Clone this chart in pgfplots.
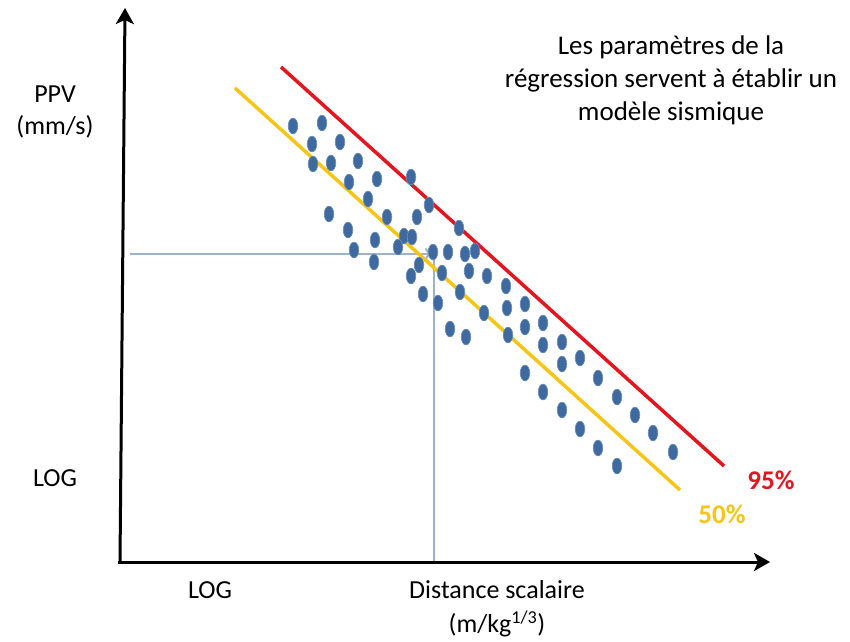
\documentclass[border=0pt]{standalone}
\usepackage{fontspec}
\setmainfont{Carlito}
\usepackage{pgfplots}
\pgfplotsset{compat=1.18}
\usetikzlibrary{arrows.meta}
\definecolor{dotblue}{HTML}{3E6AA0}
\definecolor{lred}{HTML}{E3161F}
\definecolor{lyellow}{HTML}{F5C518}
\definecolor{guide}{HTML}{9DB3CB}
\begin{document}
\begin{tikzpicture}
\begin{axis}[
  width=850pt, height=641pt, scale only axis,
  xmin=0, xmax=850, ymin=0, ymax=641, y dir=reverse,
  hide axis, clip=false,
]
\addplot[draw=none, forget plot] coordinates {(0,0) (850,641)};
% guide lines
\addplot[guide, line width=2pt, -{To[length=7pt,width=12pt]}] coordinates {(130,254) (432,254)};
\addplot[guide, line width=2pt] coordinates {(434,258) (434,562)};
% axes
\addplot[black, line width=3pt, -{Stealth[length=16pt,width=18pt,inset=4pt]}] coordinates {(120,562) (125,8)};
\addplot[black, line width=3pt, -{Stealth[length=16pt,width=18pt,inset=4pt]}] coordinates {(118,562) (770,562)};
% regression lines
\addplot[lred, line width=3.5pt] coordinates {(281,67) (724,466)};
\addplot[lyellow, line width=3.5pt] coordinates {(235,88) (680,490)};
% data points
\addplot[only marks, mark=*, mark size=4.8pt, mark options={yscale=1.65, fill=dotblue, draw=dotblue!75!white, line width=0.6pt}] coordinates {
(293,126) (322,123) (312,144) (340,142) (313,164) (331,163) (358,161) (349,182)
(377,179) (411,177) (368,199) (429,205) (329,214) (387,217) (417,217) (459,228)
(348,230) (375,240) (404,236) (412,237) (398,247) (354,250) (475,251) (433,252)
(448,252) (465,254) (374,262) (419,265) (469,271) (487,276) (442,273) (411,276)
(423,294) (460,292) (506,286) (438,303) (484,313) (507,308) (525,304) (450,329)
(466,337) (508,335) (525,327) (543,323) (543,345) (562,342) (562,364) (580,358)
(525,373) (598,378) (543,392) (617,397) (562,410) (635,415) (580,429) (653,433)
(598,448) (673,452) (617,466)
};
% texts
\node[font=\fontsize{26}{30}\selectfont] at (axis cs:55,94) {PPV};
\node[font=\fontsize{26}{30}\selectfont] at (axis cs:55,127) {(mm/s)};
\node[font=\fontsize{26}{30}\selectfont] at (axis cs:55,478) {LOG};
\node[font=\fontsize{26}{30}\selectfont] at (axis cs:210,590) {LOG};
\node[font=\fontsize{26}{30}\selectfont] at (axis cs:497,590) {Distance scalaire};
\node[font=\fontsize{26}{30}\selectfont] at (axis cs:497,624) {(m/kg\textsuperscript{1/3})};
\node[font=\fontsize{27}{33}\selectfont, align=center] at (axis cs:671,80) {Les paramètres de la\\régression servent à établir un\\modèle sismique};
\node[font=\fontsize{27}{30}\selectfont\bfseries, text=lred] at (axis cs:771,480) {95\%};
\node[font=\fontsize{27}{30}\selectfont\bfseries, text=lyellow] at (axis cs:722,514) {50\%};
\end{axis}
\end{tikzpicture}
\end{document}
